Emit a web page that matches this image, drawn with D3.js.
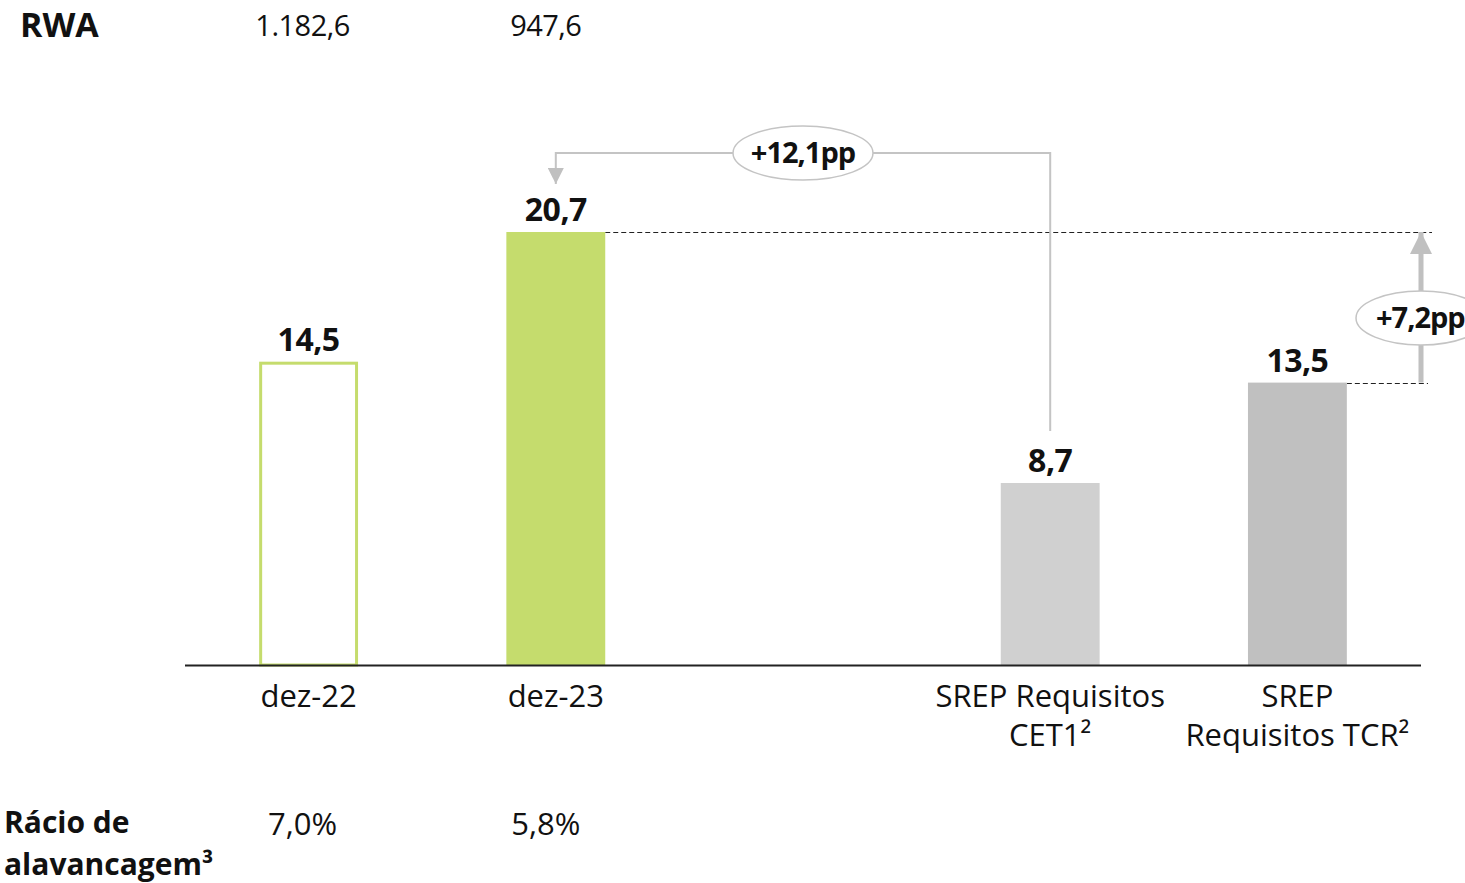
<!DOCTYPE html>
<html>
<head>
<meta charset="utf-8">
<script src="https://cdn.jsdelivr.net/npm/d3@7"></script>
<style>
  body { margin: 0; background: #fff; }
  text { font-family: "Open Sans", "DejaVu Sans", sans-serif; fill: #111; }
</style>
</head>
<body>
<div id="container"></div>
<script>
// Data
var categories = ["dez-22", "dez-23", "gap", "CET1", "TCR"];
var values = [14.5, 20.7, null, 8.7, 13.5];
var valueLabels = ["14,5", "20,7", "", "8,7", "13,5"];
var axisLabels = [["dez-22"], ["dez-23"], [], ["SREP Requisitos", "CET1²"], ["SREP", "Requisitos TCR²"]];
var rwaLabels = ["1.182,6", "947,6"];
var leverageLabels = ["7,0%", "5,8%"];
var deltaCet1 = "+12,1pp";
var deltaTcr = "+7,2pp";

// Set width and height
var width = 1465,
    height = 883;

var svg = d3.select("#container")
            .append("svg")
              .attr("width", width)
              .attr("height", height);

var x = d3.scaleBand()
          .domain(categories)
          .range([185, 1421])
          .paddingInner(0.6)
          .paddingOuter(0.3);

var y = d3.scaleLinear()
          .domain([0, 20.7])
          .range([665, 232]);

var cx = function(c) { return x(c) + x.bandwidth() / 2; };

var fills = ["none", "#c5dc6d", null, "#d0d0d0", "#c0c0c0"];

var bars = categories.map(function(c, i) { return {cat: c, v: values[i], i: i}; })
                     .filter(function(d) { return d.v !== null; });

// Dashed reference lines
svg.append("line")
    .attr("x1", x("dez-23") + x.bandwidth()).attr("x2", 1432)
    .attr("y1", Math.round(y(20.7)) + 0.5).attr("y2", Math.round(y(20.7)) + 0.5)
    .attr("stroke", "#222").attr("stroke-width", 1)
    .attr("stroke-dasharray", "5,3");

svg.append("line")
    .attr("x1", x("TCR") + x.bandwidth()).attr("x2", 1428)
    .attr("y1", Math.round(y(13.5)) + 0.5).attr("y2", Math.round(y(13.5)) + 0.5)
    .attr("stroke", "#222").attr("stroke-width", 1)
    .attr("stroke-dasharray", "5,3");

// Bars
svg.selectAll("rect.bar")
    .data(bars)
    .enter()
    .append("rect")
      .attr("class", "bar")
      .attr("x", function(d) { return d.i === 0 ? x(d.cat) + 1.5 : x(d.cat); })
      .attr("y", function(d) { return d.i === 0 ? y(d.v) + 1.5 : y(d.v); })
      .attr("width", function(d) { return d.i === 0 ? x.bandwidth() - 3 : x.bandwidth(); })
      .attr("height", function(d) { return d.i === 0 ? y(0) - y(d.v) - 1.5 : y(0) - y(d.v); })
      .attr("fill", function(d) { return fills[d.i]; })
      .attr("stroke", function(d) { return d.i === 0 ? "#c5dc6d" : "none"; })
      .attr("stroke-width", 3);

// Baseline
svg.append("line")
    .attr("x1", 185).attr("x2", 1421)
    .attr("y1", y(0) + 0.5).attr("y2", y(0) + 0.5)
    .attr("stroke", "#222").attr("stroke-width", 2);

// Value labels
svg.selectAll("text.val")
    .data(bars)
    .enter()
    .append("text")
      .attr("class", "val")
      .attr("x", function(d) { return cx(d.cat); })
      .attr("y", function(d) { return y(d.v) - 11; })
      .attr("text-anchor", "middle")
      .style("font-size", "32px")
      .style("font-weight", "bold")
      .style("letter-spacing", "-0.5px")
      .text(function(d) { return valueLabels[d.i]; });

// Category labels
categories.forEach(function(c, i) {
  axisLabels[i].forEach(function(line, j) {
    svg.append("text")
        .attr("x", cx(c))
        .attr("y", 707 + j * 39)
        .attr("text-anchor", "middle")
        .style("font-size", "31px")
        .text(line);
  });
});

// Arrow markers
var defs = svg.append("defs");
defs.append("marker")
    .attr("id", "head")
    .attr("viewBox", "0 0 10 10")
    .attr("refX", 10).attr("refY", 5)
    .attr("markerWidth", 17).attr("markerHeight", 16)
    .attr("markerUnits", "userSpaceOnUse")
    .attr("orient", "auto")
  .append("path")
    .attr("d", "M0,0L10,5L0,10Z")
    .attr("fill", "#c0c0c0");
defs.append("marker")
    .attr("id", "headBig")
    .attr("viewBox", "0 0 10 10")
    .attr("refX", 10).attr("refY", 5)
    .attr("markerWidth", 26).attr("markerHeight", 22)
    .attr("markerUnits", "userSpaceOnUse")
    .attr("orient", "auto")
  .append("path")
    .attr("d", "M0,0L10,5L0,10Z")
    .attr("fill", "#c0c0c0");

// CET1 connector: from CET1 label up, across to dez-23
var topY = 153;
svg.append("path")
    .attr("d", "M" + cx("CET1") + "," + (y(8.7) - 52) + "V" + topY + "H" + cx("dez-23") + "V" + (topY + 31))
    .attr("fill", "none")
    .attr("stroke", "#c4c4c4")
    .attr("stroke-width", 2)
    .attr("marker-end", "url(#head)");

svg.append("ellipse")
    .attr("cx", (cx("dez-23") + cx("CET1")) / 2)
    .attr("cy", topY)
    .attr("rx", 70).attr("ry", 27)
    .attr("fill", "#fff")
    .attr("stroke", "#c4c4c4")
    .attr("stroke-width", 1.5);

svg.append("text")
    .attr("x", (cx("dez-23") + cx("CET1")) / 2)
    .attr("y", topY + 10)
    .attr("text-anchor", "middle")
    .style("font-size", "29px")
    .style("font-weight", "bold")
    .style("letter-spacing", "-1px")
    .text(deltaCet1);

// TCR arrow
svg.append("line")
    .attr("x1", 1421).attr("x2", 1421)
    .attr("y1", y(13.5)).attr("y2", y(20.7))
    .attr("stroke", "#c0c0c0")
    .attr("stroke-width", 5)
    .attr("marker-end", "url(#headBig)");

svg.append("ellipse")
    .attr("cx", 1421)
    .attr("cy", 318)
    .attr("rx", 65).attr("ry", 27)
    .attr("fill", "#fff")
    .attr("stroke", "#c4c4c4")
    .attr("stroke-width", 1.5);

svg.append("text")
    .attr("x", 1376)
    .attr("y", 328)
    .style("font-size", "29px")
    .style("font-weight", "bold")
    .style("letter-spacing", "-1px")
    .text(deltaTcr);

// RWA row
svg.append("text")
    .attr("x", 20).attr("y", 37)
    .style("font-size", "34px")
    .style("font-weight", "bold")
    .text("RWA");

svg.selectAll("text.rwa")
    .data(rwaLabels)
    .enter()
    .append("text")
      .attr("class", "rwa")
      .attr("x", function(d, i) { return cx(categories[i]) - (i === 0 ? 6 : 10); })
      .attr("y", 36)
      .attr("text-anchor", "middle")
      .style("font-size", "29px")
      .style("letter-spacing", "-0.5px")
      .text(function(d) { return d; });

// Leverage row
svg.append("text")
    .attr("x", 4).attr("y", 833)
    .style("font-size", "30px")
    .style("font-weight", "bold")
    .text("Rácio de");

svg.append("text")
    .attr("x", 4).attr("y", 875)
    .style("font-size", "30px")
    .style("font-weight", "bold")
    .text("alavancagem³");

svg.selectAll("text.lev")
    .data(leverageLabels)
    .enter()
    .append("text")
      .attr("class", "lev")
      .attr("x", function(d, i) { return cx(categories[i]) - (i === 0 ? 6 : 10); })
      .attr("y", 835)
      .attr("text-anchor", "middle")
      .style("font-size", "31px")
      .text(function(d) { return d; });
</script>
</body>
</html>
